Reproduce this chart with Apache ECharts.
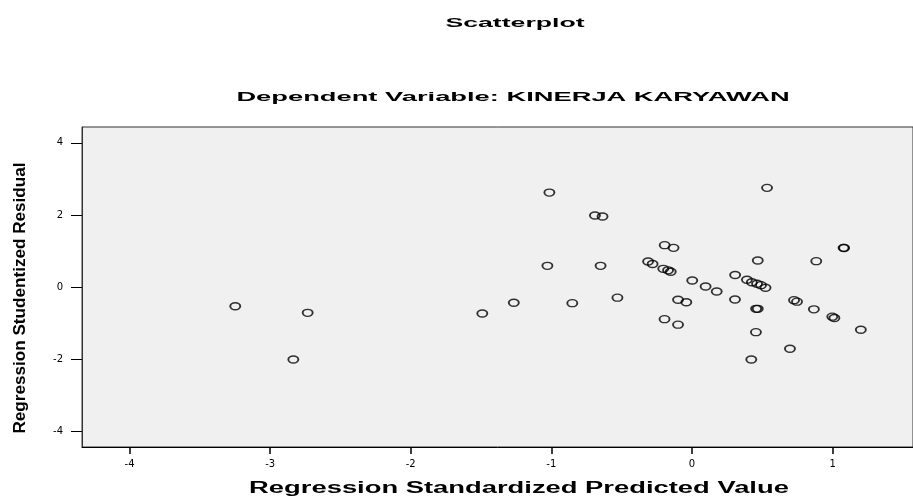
<!DOCTYPE html>
<html>
<head>
<meta charset="utf-8">
<title>Scatterplot</title>
<script src="https://cdn.jsdelivr.net/npm/echarts@6/dist/echarts.min.js"></script>
<style>
  html, body { margin: 0; padding: 0; background: #fff; }
  #main { width: 913px; height: 499px; }
</style>
</head>
<body>
<div id="main"></div>
<script>
// predicted value (x) and studentized residual (y)
const predicted = [
  -3.248, -2.733, -2.835, -1.014, 0.534, -0.690, -0.636, -0.194, -0.131, 1.078,
  1.082, 0.468, 0.884, -1.028, -0.650, -0.312, -0.280, -0.204, -0.170, -0.151,
  0.002, 0.097, 0.176, 0.307, 0.391, 0.426, 0.463, 0.491, 0.523, -1.267,
  -0.851, -0.530, -1.491, -0.099, -0.040, 0.306, 0.456, 0.468, 0.726, 0.747,
  0.867, 0.998, 1.013, 1.201, -0.195, -0.099, 0.455, 0.697, 0.422
];
const residual = [
  -0.533, -0.716, -2.011, 2.621, 2.752, 1.983, 1.956, 1.160, 1.087, 1.087,
  1.082, 0.735, 0.716, 0.588, 0.588, 0.707, 0.638, 0.505, 0.463, 0.424,
  0.180, 0.014, -0.125, 0.333, 0.200, 0.133, 0.089, 0.050, -0.022, -0.438,
  -0.449, -0.297, -0.735, -0.355, -0.422, -0.347, -0.605, -0.605, -0.366, -0.408,
  -0.619, -0.824, -0.860, -1.187, -0.893, -1.046, -1.254, -1.714, -2.011
];
const xTicks = [-4, -3, -2, -1, 0, 1];
const yTicks = [-4, -2, 0, 2, 4];

const chartTitle = 'Scatterplot';
const chartSubtitle = 'Dependent Variable: KINERJA KARYAWAN';
const xName = 'Regression Standardized Predicted Value';
const yName = 'Regression Studentized Residual';

const points = predicted.map((x, i) => [x, residual[i]]);

const myChart = echarts.init(document.getElementById('main'));

// spss style text looks stretched sideways, so scale it
function label(text, x, y, size, sx, rot) {
  return {
    type: 'text',
    x: x,
    y: y,
    scaleX: sx,
    rotation: rot || 0,
    style: {
      text: text,
      fill: '#000',
      font: 'bold ' + size + 'px "Liberation Sans", Arial, sans-serif',
      textAlign: 'center',
      verticalAlign: 'middle'
    }
  };
}

const option = {
  animation: false,
  backgroundColor: '#fff',
  grid: {
    show: true,
    left: 82,
    top: 127,
    right: -3,
    bottom: 52,
    backgroundColor: '#f0f0f0',
    borderColor: '#333',
    borderWidth: 1
  },
  xAxis: {
    type: 'value',
    min: -4.338,
    max: 1.572,
    splitLine: { show: false },
    axisLine: { onZero: false, lineStyle: { color: '#000', width: 1 } },
    axisTick: {
      customValues: xTicks,
      length: 7,
      lineStyle: { color: '#000', width: 1.5 }
    },
    axisLabel: {
      customValues: xTicks,
      margin: 12,
      color: '#000',
      fontSize: 10,
      fontFamily: 'DejaVu Sans'
    }
  },
  yAxis: {
    type: 'value',
    min: -4.44,
    max: 4.44,
    splitLine: { show: false },
    axisLine: { onZero: false, lineStyle: { color: '#333', width: 1 } },
    axisTick: {
      customValues: yTicks,
      length: 11,
      lineStyle: { color: '#000', width: 1 }
    },
    axisLabel: {
      customValues: yTicks,
      margin: 19,
      color: '#000',
      fontSize: 10,
      fontFamily: 'DejaVu Sans'
    }
  },
  graphic: [
    label(chartTitle, 515, 23, 13, 2.05),
    label(chartSubtitle, 513, 97, 13, 2.1),
    label(xName, 519, 489, 16, 1.71),
    label(yName, 21, 298, 16, 1.07, Math.PI / 2)
  ],
  series: [
    {
      type: 'scatter',
      data: points,
      symbol: 'circle',
      symbolSize: [10, 7],
      itemStyle: {
        color: 'rgba(0,0,0,0)',
        borderColor: '#000',
        borderWidth: 1.6
      }
    }
  ]
};

myChart.setOption(option);
</script>
</body>
</html>
